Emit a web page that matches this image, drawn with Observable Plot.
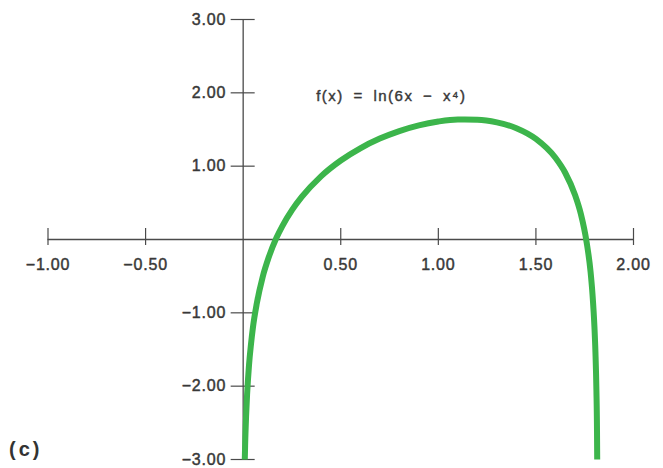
<!DOCTYPE html>
<html>
<head>
<meta charset="utf-8">
<script src="https://cdn.jsdelivr.net/npm/d3@7"></script>
<script src="https://cdn.jsdelivr.net/npm/@observablehq/plot@0.6"></script>
<style>
  html, body { margin: 0; padding: 0; background: #fff; }
  #chart { width: 663px; height: 468px; }
</style>
</head>
<body>
<div id="chart"></div>
<script>
// Curve points: f(x) = ln(6x − x⁴)
const curveX = [0.0083, 0.01, 0.015, 0.02, 0.03, 0.04, 0.05, 0.07, 0.10, 0.13, 0.17, 0.20, 0.25, 0.30, 0.40, 0.50, 0.60, 0.70, 0.80, 0.90, 1.00, 1.10, 1.20, 1.30, 1.40, 1.50, 1.60, 1.65, 1.70, 1.73, 1.76, 1.78, 1.79, 1.80, 1.805, 1.81, 1.813, 1.814];
const curveY = [-3.00, -2.81, -2.41, -2.12, -1.71, -1.43, -1.20, -0.87, -0.51, -0.25, 0.02, 0.18, 0.40, 0.58, 0.865, 1.078, 1.244, 1.376, 1.479, 1.557, 1.609, 1.636, 1.634, 1.598, 1.517, 1.371, 1.114, 0.91, 0.61, 0.35, -0.04, -0.44, -0.75, -1.20, -1.54, -2.06, -2.61, -3.00];

const xTicks = [-1.0, -0.5, 0.5, 1.0, 1.5, 2.0];
const yTicks = [-3, -2, -1, 1, 2, 3];
const xDomain = [-1, 2];
const yDomain = [-3, 3];

const formulaLabel = "f(x) = ln(6x − x⁴)";
const formulaAt = {x: 0.374, y: 1.96};
const panelLabel = "(c)";

const points = curveX.map((x, i) => ({x, y: curveY[i]}));
const fmt = d3.format(".2f");
const axisColor = "#4a4a4a";
const labelColor = "#383838";

const chart = Plot.plot({
  width: 663,
  height: 468,
  marginLeft: 47.5,
  marginRight: 30,
  marginTop: 19,
  marginBottom: 9,
  style: {fontFamily: "'Liberation Sans', Arial, sans-serif", background: "#fff"},
  x: {domain: xDomain, axis: null},
  y: {domain: yDomain, axis: null},
  marks: [
    // axes
    Plot.ruleY([0], {x1: xDomain[0], x2: xDomain[1], stroke: axisColor, strokeWidth: 1.3}),
    Plot.ruleX([0], {y1: yDomain[0], y2: yDomain[1], stroke: axisColor, strokeWidth: 1.3}),
    // ticks
    Plot.ruleX(xTicks, {x: d => d, y1: 0, y2: 0, insetTop: -11, insetBottom: -6, stroke: axisColor, strokeWidth: 1.2}),
    Plot.ruleY(yTicks, {y: d => d, x1: 0, x2: 0, insetLeft: -12, insetRight: -12, stroke: axisColor, strokeWidth: 1.2}),
    // tick labels
    Plot.text(xTicks, {x: d => d, y: 0, text: d => fmt(d), dy: 25, fontSize: 16, fill: labelColor, stroke: labelColor, strokeWidth: 0.45}),
    Plot.text(yTicks, {x: 0, y: d => d, text: d => fmt(d), dx: -17, textAnchor: "end", fontSize: 16, fill: labelColor, stroke: labelColor, strokeWidth: 0.45}),
    // curve
    Plot.line(points, {x: "x", y: "y", stroke: "#3cb54b", strokeWidth: 6, curve: "monotone-x", strokeLinecap: "butt"}),
    // formula
    Plot.text([formulaLabel], {x: formulaAt.x, y: formulaAt.y, text: d => d, textAnchor: "start", fontSize: 15, fill: labelColor, stroke: labelColor, strokeWidth: 0.4}),
    // panel label
    Plot.text([panelLabel], {frameAnchor: "bottom-left", text: d => d, dx: -39, dy: -4, lineAnchor: "bottom", textAnchor: "start", fontSize: 20, fontWeight: "bold", fill: "#333"})
  ]
});

// spacing tweaks for the formula, panel label and tick labels
chart.querySelectorAll("text").forEach(t => {
  if (t.textContent === formulaLabel) { t.style.letterSpacing = "1.5px"; t.style.wordSpacing = "4px"; }
  else if (t.textContent === panelLabel) { t.style.letterSpacing = "3px"; }
  else if (/^[−\-]?\d\.\d\d$/.test(t.textContent)) { t.style.letterSpacing = "0.8px"; }
});

document.getElementById("chart").appendChild(chart);
</script>
</body>
</html>
